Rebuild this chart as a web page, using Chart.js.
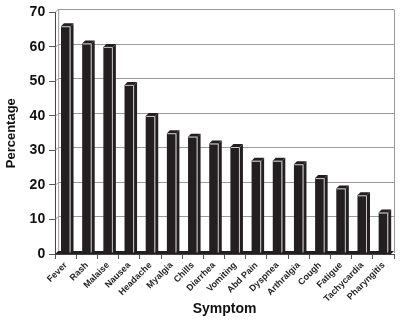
<!DOCTYPE html>
<html>
<head>
<meta charset="utf-8">
<script src="https://cdn.jsdelivr.net/npm/chart.js@4/dist/chart.umd.min.js"></script>
<style>
  html, body { margin: 0; padding: 0; background: #fff; }
  #wrap { width: 400px; height: 323px; }
</style>
</head>
<body>
<div id="wrap"><canvas id="c" width="400" height="323"></canvas></div>
<script>
const categories = ["Fever", "Rash", "Malaise", "Nausea", "Headache", "Myalgia", "Chills", "Diarrhea",
  "Vomiting", "Abd Pain", "Dyspnea", "Arthralgia", "Cough", "Fatigue", "Tachycardia", "Pharyngitis"];
const percentages = [66, 61, 60, 49, 40, 35, 34, 32, 31, 27, 27, 26, 22, 19, 17, 12];
const yTicksMajor = [0, 10, 20, 30, 40, 50, 60, 70];
const yMin = 0, yMax = 70;

const FONT = "'Liberation Sans Narrow', 'Arial Narrow', 'Liberation Sans', sans-serif";
const DEPTH = 3;
const BAR = '#231f20';

const depthPlugin = {
  id: 'depth3d',
  beforeDatasetsDraw(chart) {
    const ctx = chart.ctx;
    const ca = chart.chartArea;
    const ys = chart.scales.y;
    const base = ys.getPixelForValue(0);
    ctx.save();
    ctx.strokeStyle = '#9a9a9a';
    ctx.lineWidth = 1;
    yTicksMajor.forEach(v => {
      if (v === 0) return;
      const py = Math.round(ys.getPixelForValue(v)) + 0.5;
      ctx.beginPath();
      ctx.moveTo(ca.left, py);
      ctx.lineTo(ca.left + DEPTH, py - DEPTH);
      ctx.lineTo(ca.right, py - DEPTH);
      ctx.stroke();
    });
    const topY = Math.round(ys.getPixelForValue(yMax)) + 0.5 - DEPTH;
    ctx.beginPath();
    ctx.moveTo(ca.left + DEPTH + 0.5, topY);
    ctx.lineTo(ca.left + DEPTH + 0.5, base - DEPTH);
    ctx.stroke();
    ctx.beginPath();
    ctx.moveTo(Math.round(ca.right) + 0.5, topY);
    ctx.lineTo(Math.round(ca.right) + 0.5, base - DEPTH + 2);
    ctx.stroke();
    ctx.fillStyle = BAR;
    ctx.beginPath();
    ctx.moveTo(ca.left, base);
    ctx.lineTo(ca.left + DEPTH, base - DEPTH);
    ctx.lineTo(ca.right, base - DEPTH);
    ctx.lineTo(ca.right - DEPTH, base);
    ctx.closePath();
    ctx.fill();
    ctx.restore();
  },
  afterDatasetsDraw(chart) {
    const ctx = chart.ctx;
    const meta = chart.getDatasetMeta(0);
    ctx.save();
    meta.data.forEach(el => {
      const p = el.getProps(['x', 'y', 'base', 'width'], true);
      const l = p.x - p.width / 2, r = p.x + p.width / 2, t = p.y, b = p.base;
      ctx.fillStyle = BAR;
      ctx.beginPath();
      ctx.moveTo(r, t);
      ctx.lineTo(r + DEPTH, t - DEPTH);
      ctx.lineTo(r + DEPTH, b - DEPTH);
      ctx.lineTo(r, b);
      ctx.closePath();
      ctx.fill();
      ctx.beginPath();
      ctx.moveTo(l, t);
      ctx.lineTo(l + DEPTH, t - DEPTH);
      ctx.lineTo(r + DEPTH, t - DEPTH);
      ctx.lineTo(r, t);
      ctx.closePath();
      ctx.fill();
      ctx.strokeStyle = '#c8c8c8';
      ctx.lineWidth = 1;
      ctx.beginPath();
      ctx.moveTo(l + 0.5, t + 0.5);
      ctx.lineTo(r - 0.5, t + 0.5);
      ctx.lineTo(r - 0.5, b - 1);
      ctx.stroke();
    });
    ctx.restore();
  }
};

new Chart(document.getElementById('c'), {
  type: 'bar',
  data: {
    labels: categories,
    datasets: [{
      data: percentages,
      backgroundColor: BAR,
      borderWidth: 0,
      barPercentage: 0.45,
      categoryPercentage: 1.0
    }]
  },
  options: {
    responsive: false,
    animation: false,
    devicePixelRatio: 1,
    layout: { padding: { top: 12, right: 6, left: 2, bottom: 0 } },
    plugins: { legend: { display: false }, tooltip: { enabled: false } },
    scales: {
      x: {
        afterFit(scale) { scale.height = 69; },
        grid: { display: true, drawOnChartArea: false, offset: true, tickLength: 5, color: '#555' },
        border: { display: true, color: '#444', width: 1 },
        ticks: {
          minRotation: 45, maxRotation: 45, autoSkip: false,
          color: '#222', padding: 1,
          font: { family: FONT, size: 9, weight: 'bold' }
        },
        title: {
          display: true, text: 'Symptom', color: '#111',
          font: { family: FONT, size: 14, weight: 'bold' },
          padding: { top: 2, bottom: 5 }
        }
      },
      y: {
        min: yMin, max: yMax,
        grid: { display: true, drawOnChartArea: false, tickLength: 6, color: '#555' },
        border: { display: true, color: '#444', width: 1 },
        ticks: {
          stepSize: 5,
          color: '#111', padding: 4,
          font: { family: FONT, size: 14, weight: 'bold' },
          callback: v => (yTicksMajor.includes(v) ? String(v) : '')
        },
        title: {
          display: true, text: 'Percentage', color: '#111',
          font: { family: FONT, size: 13, weight: 'bold' },
          padding: { top: 2, bottom: 6 }
        }
      }
    }
  },
  plugins: [depthPlugin]
});
</script>
</body>
</html>
